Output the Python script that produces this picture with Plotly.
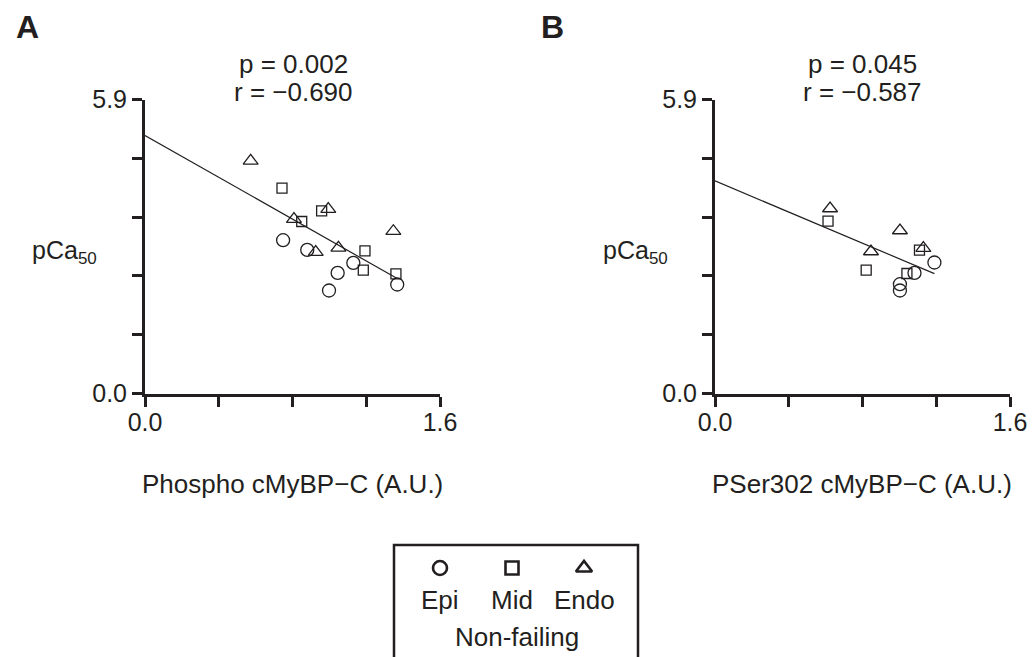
import numpy as np
import plotly.graph_objects as go

# ---------------- data ----------------
# Panel A: Phospho cMyBP-C vs pCa50
a_epi_x = [0.749, 0.880, 1.130, 1.045, 0.998, 1.368]
a_epi_y = [3.076, 2.882, 2.621, 2.420, 2.067, 2.187]
a_mid_x = [0.743, 0.958, 0.850, 1.193, 1.184, 1.361]
a_mid_y = [4.120, 3.665, 3.452, 2.862, 2.474, 2.400]
a_endo_x = [0.573, 0.808, 0.994, 0.926, 1.049, 1.347]
a_endo_y = [4.668, 3.498, 3.699, 2.836, 2.922, 3.257]

# Panel B: PSer302 cMyBP-C vs pCa50
b_epi_x = [1.082, 1.190, 1.003, 1.003]
b_epi_y = [2.420, 2.629, 2.193, 2.067]
b_mid_x = [0.613, 0.820, 1.109, 1.041]
b_mid_y = [3.458, 2.474, 2.876, 2.408]
b_endo_x = [0.624, 0.846, 1.003, 1.130]
b_endo_y = [3.713, 2.850, 3.271, 2.916]

x_label_vals = [0.0, 1.6]
x_label_text = ["0.0", "1.6"]
x_minor_ticks = [0.4, 0.8, 1.2]
y_label_vals = [0.0, 5.9]
y_label_text = ["0.0", "5.9"]
y_minor_ticks = [1.18, 2.36, 3.54, 4.72]

groups = ["Epi", "Mid", "Endo"]
symbols = ["circle-open", "square-open", "triangle-up-open"]
sizes = [13, 10, 13]
legend_sizes = [14, 13, 14]

stats_a = ["p = 0.002", "r = \u22120.690"]
stats_b = ["p = 0.045", "r = \u22120.587"]
xtitle_a = "Phospho cMyBP\u2212C (A.U.)"
xtitle_b = "PSer302 cMyBP\u2212C (A.U.)"
ylabel = "pCa<sub><span style='font-size:17px'>50</span></sub>"
legend_title = "Non-failing"

FONT = "Liberation Sans, Arial, sans-serif"
INK = "#231f20"
FS = 25
FA = 26

fig = go.Figure()

def add_panel(xs_list, ys_list, xa, ya):
    allx, ally = [], []
    for xs, ys, sym, sz in zip(xs_list, ys_list, symbols, sizes):
        fig.add_trace(go.Scatter(
            x=xs, y=ys, mode="markers", xaxis=xa, yaxis=ya, showlegend=False,
            marker=dict(symbol=sym, size=sz, color=INK, line=dict(width=1.3, color=INK)),
            cliponaxis=False))
        allx += xs
        ally += ys
    slope, intercept = np.polyfit(allx, ally, 1)
    lx = np.array([0.0, max(allx)])
    fig.add_trace(go.Scatter(x=lx, y=intercept + slope * lx, mode="lines",
                             xaxis=xa, yaxis=ya, showlegend=False,
                             line=dict(color=INK, width=1.2)))

add_panel([a_epi_x, a_mid_x, a_endo_x], [a_epi_y, a_mid_y, a_endo_y], "x", "y")
add_panel([b_epi_x, b_mid_x, b_endo_x], [b_epi_y, b_mid_y, b_endo_y], "x2", "y2")

# legend markers on a hidden axis
for g, sym, sz in zip(groups, symbols, legend_sizes):
    fig.add_trace(go.Scatter(x=[g], y=[0], mode="markers", xaxis="x3", yaxis="y3",
                             showlegend=False,
                             marker=dict(symbol=sym, size=sz, color=INK,
                                         line=dict(width=2.6, color=INK))))

W, H = 1032, 657
def px(v):
    return v / W
def py(v):
    return 1 - v / H

axis_common = dict(showline=True, linewidth=3, linecolor=INK, ticks="outside",
                   ticklen=10, tickwidth=3, tickcolor=INK, showgrid=False,
                   zeroline=False, automargin=False,
                   tickfont=dict(size=FS, family=FONT, color=INK))

def minor(vals):
    return dict(tickmode="array", tickvals=vals, ticks="outside", ticklen=10,
                tickwidth=3, tickcolor=INK, showgrid=False)

top, bottom = 99.5, 393.5
fig.update_layout(
    width=W, height=H, margin=dict(l=0, r=0, t=0, b=0, pad=0, autoexpand=False),
    autosize=False, showlegend=False,
    paper_bgcolor="white", plot_bgcolor="white",
    font=dict(family=FONT, color=INK),
    xaxis=dict(domain=[px(145), px(440)], range=[0, 1.6], tickvals=x_label_vals,
               ticktext=x_label_text, minor=minor(x_minor_ticks), anchor="y",
               ticklabelstandoff=-6, **axis_common),
    yaxis=dict(domain=[py(bottom), py(top)], range=[0, 5.9], tickvals=y_label_vals,
               ticktext=y_label_text, minor=minor(y_minor_ticks), anchor="x", **axis_common),
    xaxis2=dict(domain=[px(715), px(1010)], range=[0, 1.6], tickvals=x_label_vals,
                ticktext=x_label_text, minor=minor(x_minor_ticks), anchor="y2",
                ticklabelstandoff=-6, **axis_common),
    yaxis2=dict(domain=[py(bottom), py(top)], range=[0, 5.9], tickvals=y_label_vals,
                ticktext=y_label_text, minor=minor(y_minor_ticks), anchor="x2", **axis_common),
    xaxis3=dict(domain=[px(404), px(620)], range=[-0.5, 2.5], visible=False,
                type="category", anchor="y3", automargin=False),
    yaxis3=dict(domain=[py(578), py(558)], range=[-1, 1], visible=False, anchor="x3",
                automargin=False),
)

ann = []
def text(x, y, s, size=FA, bold=False, xanchor="center"):
    ann.append(dict(x=px(x), y=py(y), xref="paper", yref="paper", text=("<b>%s</b>" % s) if bold else s,
                    showarrow=False, xanchor=xanchor, yanchor="middle",
                    font=dict(size=size, family=FONT, color=INK)))

text(27, 27, "A", size=32, bold=True)
text(552, 27, "B", size=32, bold=True)
text(293, 64, stats_a[0])
text(293, 92, stats_a[1])
text(862, 64, stats_b[0])
text(862, 92, stats_b[1])
text(64, 252, ylabel, size=FS)
text(635, 252, ylabel, size=FS)
text(292, 484, xtitle_a)
text(862, 484, xtitle_b)
# legend labels
text(440, 600, groups[0])
text(512, 600, groups[1])
text(584, 600, groups[2])
text(517, 637, legend_title)
fig.update_layout(annotations=ann)

fig.add_shape(type="rect", xref="paper", yref="paper",
              x0=px(394), x1=px(638), y0=py(675), y1=py(545),
              line=dict(color=INK, width=2.5))

fig.write_html("out.html")
